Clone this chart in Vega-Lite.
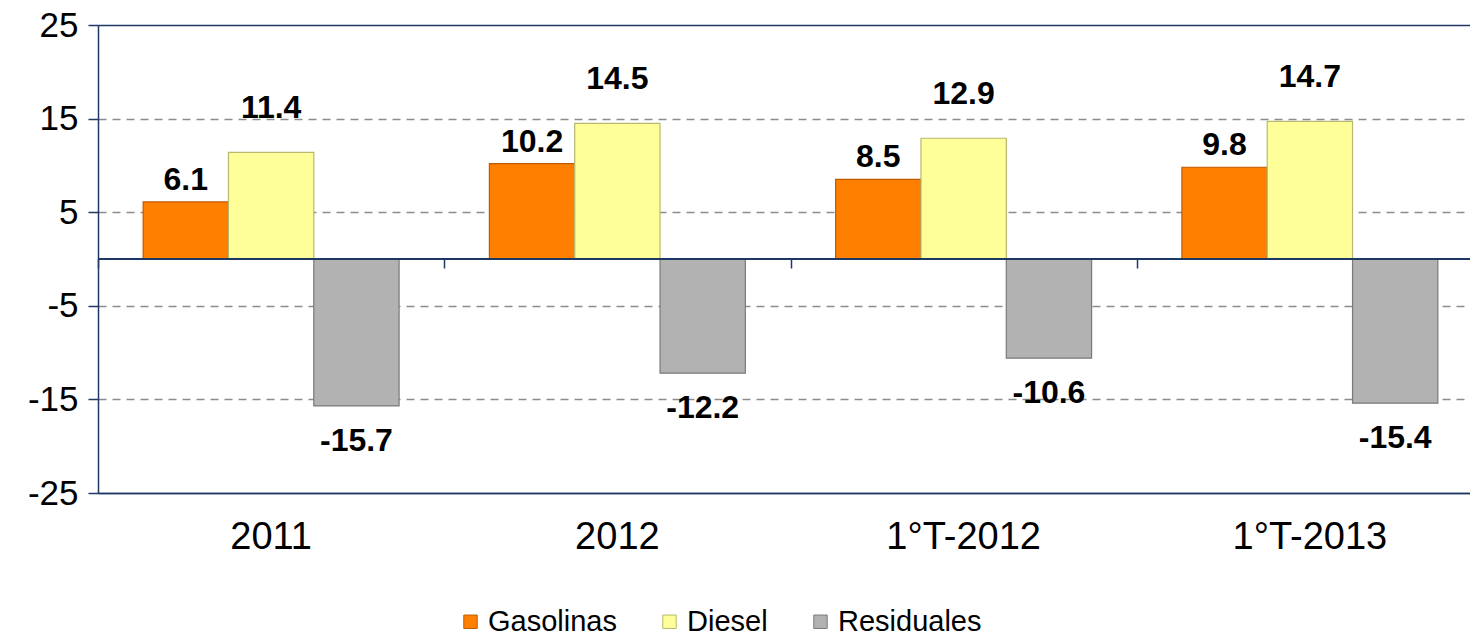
{
  "$schema": "https://vega.github.io/schema/vega-lite/v6.json",
  "autosize": {"type": "none"},
  "padding": {"left": 98, "top": 25, "right": 0, "bottom": 147},
  "width": 1372,
  "height": 468,
  "background": "white",
  "config": {
    "view": {"stroke": null},
    "font": "Liberation Sans",
    "locale": {"number": {"decimal": ".", "thousands": ",", "grouping": [3], "currency": ["$", ""], "minus": "-"}},
    "axis": {"labelFont": "Liberation Sans", "labelColor": "#000000"},
    "legend": {"labelFont": "Liberation Sans"}
  },
  "data": {
    "values": [
      {"periodo": "2011", "serie": "Gasolinas", "valor": 6.1},
      {"periodo": "2011", "serie": "Diesel", "valor": 11.4},
      {"periodo": "2011", "serie": "Residuales", "valor": -15.7},
      {"periodo": "2012", "serie": "Gasolinas", "valor": 10.2},
      {"periodo": "2012", "serie": "Diesel", "valor": 14.5},
      {"periodo": "2012", "serie": "Residuales", "valor": -12.2},
      {"periodo": "1°T-2012", "serie": "Gasolinas", "valor": 8.5},
      {"periodo": "1°T-2012", "serie": "Diesel", "valor": 12.9},
      {"periodo": "1°T-2012", "serie": "Residuales", "valor": -10.6},
      {"periodo": "1°T-2013", "serie": "Gasolinas", "valor": 9.8},
      {"periodo": "1°T-2013", "serie": "Diesel", "valor": 14.7},
      {"periodo": "1°T-2013", "serie": "Residuales", "valor": -15.4}
    ]
  },
  "resolve": {"axis": {"x": "independent"}},
  "layer": [
    {
      "mark": {"type": "bar", "strokeWidth": 1.2},
      "encoding": {
        "x": {
          "field": "periodo", "type": "nominal",
          "sort": ["2011", "2012", "1°T-2012", "1°T-2013"],
          "scale": {"range": [0, 1385], "paddingInner": 0.2608, "paddingOuter": 0.1304},
          "axis": {
            "orient": "bottom", "title": null, "labelAngle": 0,
            "domain": true, "domainColor": "#1F3864", "domainWidth": 1.5,
            "ticks": false, "grid": false,
            "labelFontSize": 38, "labelPadding": 25
          }
        },
        "xOffset": {
          "field": "serie", "type": "nominal",
          "scale": {"domain": ["Gasolinas", "Diesel", "Residuales"], "paddingInner": 0, "paddingOuter": 0}
        },
        "y": {
          "field": "valor", "type": "quantitative",
          "scale": {"domain": [-25, 25], "nice": false, "zero": false},
          "axis": {
            "title": null,
            "values": [-25, -15, -5, 5, 15, 25],
            "domain": true, "domainColor": "#1F3864", "domainWidth": 1.5,
            "ticks": true, "tickColor": "#1F3864", "tickSize": 10, "tickWidth": 1.5,
            "labelFontSize": 35, "labelPadding": 10,
            "grid": true,
            "gridColor": {"condition": {"test": "abs(datum.value) == 25", "value": "#1F3864"}, "value": "#8C8C8C"},
            "gridDash": {"condition": {"test": "abs(datum.value) == 25", "value": []}, "value": [8, 6]},
            "gridWidth": 1.5
          }
        },
        "color": {
          "field": "serie", "type": "nominal",
          "scale": {"domain": ["Gasolinas", "Diesel", "Residuales"], "range": ["#FF8000", "#FFFF99", "#B2B2B2"]},
          "legend": {
            "title": null, "orient": "none", "direction": "horizontal",
            "legendX": 358, "legendY": 582,
            "symbolType": "square", "symbolSize": 180, "symbolStrokeWidth": 1,
            "labelFontSize": 29, "labelOffset": 3, "columnPadding": 38,
            "labelColor": "#000000"
          }
        },
        "stroke": {
          "field": "serie", "type": "nominal",
          "scale": {"domain": ["Gasolinas", "Diesel", "Residuales"], "range": ["#C05A00", "#B8B870", "#7A7A7A"]},
          "legend": null
        }
      }
    },
    {
      "mark": {"type": "rule", "color": "#1F3864", "strokeWidth": 1.5},
      "encoding": {
        "y": {"datum": 0}
      }
    },
    {
      "transform": [{"filter": "datum.serie == 'Gasolinas'"}],
      "mark": {"type": "text", "fontSize": 32, "fontWeight": "bold", "baseline": "alphabetic", "dy": -12, "color": "#000000"},
      "encoding": {
        "x": {
          "field": "periodo", "type": "nominal", "sort": ["2011", "2012", "1°T-2012", "1°T-2013"],
          "axis": {
            "orient": "top", "offset": -234, "title": null,
            "labels": false, "domain": false, "grid": false,
            "ticks": true, "tickOffset": -173.125, "tickSize": -9,
            "tickColor": "#1F3864", "tickWidth": 1.5
          }
        },
        "xOffset": {"field": "serie", "type": "nominal"},
        "y": {"field": "valor", "type": "quantitative"},
        "text": {"field": "valor", "type": "quantitative", "format": ".1f"}
      }
    },
    {
      "transform": [{"filter": "datum.serie == 'Diesel'"}],
      "mark": {"type": "text", "fontSize": 32, "fontWeight": "bold", "baseline": "alphabetic", "dy": -34, "color": "#000000"},
      "encoding": {
        "x": {"field": "periodo", "type": "nominal", "sort": ["2011", "2012", "1°T-2012", "1°T-2013"], "axis": null},
        "xOffset": {"field": "serie", "type": "nominal"},
        "y": {"field": "valor", "type": "quantitative"},
        "text": {"field": "valor", "type": "quantitative", "format": ".1f"}
      }
    },
    {
      "transform": [{"filter": "datum.serie == 'Residuales'"}],
      "mark": {"type": "text", "fontSize": 32, "fontWeight": "bold", "baseline": "alphabetic", "dy": 45, "color": "#000000"},
      "encoding": {
        "x": {"field": "periodo", "type": "nominal", "sort": ["2011", "2012", "1°T-2012", "1°T-2013"], "axis": null},
        "xOffset": {"field": "serie", "type": "nominal"},
        "y": {"field": "valor", "type": "quantitative"},
        "text": {"field": "valor", "type": "quantitative", "format": ".1f"}
      }
    }
  ]
}
